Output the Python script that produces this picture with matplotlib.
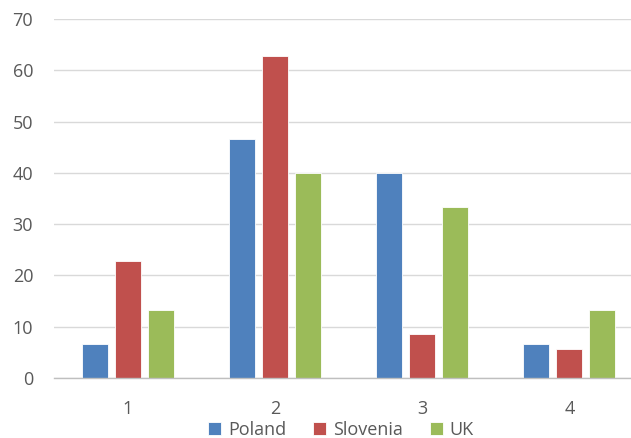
import matplotlib
matplotlib.use("Agg")
import matplotlib.pyplot as plt
import numpy as np

categories = ["1", "2", "3", "4"]
poland = [6.67, 46.67, 40.0, 6.67]
slovenia = [22.86, 62.86, 8.57, 5.71]
uk = [13.33, 40.0, 33.33, 13.33]
series_names = ["Poland", "Slovenia", "UK"]
colors = ["#4F81BD", "#C0504D", "#9BBB59"]
yticks = [0, 10, 20, 30, 40, 50, 60, 70]

plt.rcParams['font.family'] = ['Open Sans', 'DejaVu Sans']
fig = plt.figure(figsize=(6.31, 4.38), dpi=100)
ax_left, ax_right = 54, 643
ax = fig.add_axes([ax_left/631, 1-378/438, (ax_right-ax_left)/631, (378-19)/438])

x = np.arange(1, len(categories) + 1)
w = 0.177
step = 0.224
for i, (vals, name, c) in enumerate(zip([poland, slovenia, uk], series_names, colors)):
    ax.bar(x + (i - 1) * step, vals, width=w, color=c, label=name,
           edgecolor="white", linewidth=0.6, zorder=3)

ax.set_xlim(0.5, 4.5)
ax.set_ylim(0, 70)
ax.set_yticks(yticks)
ax.set_xticks(x)
ax.set_xticklabels(categories)
ax.grid(axis='y', color='#D9D9D9', linewidth=1.0, zorder=0)
for s in ['top', 'right', 'left']:
    ax.spines[s].set_visible(False)
ax.spines['bottom'].set_color('#BFBFBF')
ax.spines['bottom'].set_linewidth(1.0)
ax.spines['bottom'].set_zorder(4)
ax.tick_params(axis='both', length=0, colors='#595959', labelsize=13)
ax.tick_params(axis='y', pad=15)
ax.tick_params(axis='x', pad=16)

leg = ax.legend(loc='center', bbox_to_anchor=((341-ax_left)/(ax_right-ax_left), -(430-378)/359),
                ncol=3, frameon=False,
                fontsize=13, handlelength=0.7, handleheight=0.7, handletextpad=0.4,
                columnspacing=1.5, labelcolor='#595959', borderaxespad=0, borderpad=0)

fig.savefig("out.png", dpi=100)
